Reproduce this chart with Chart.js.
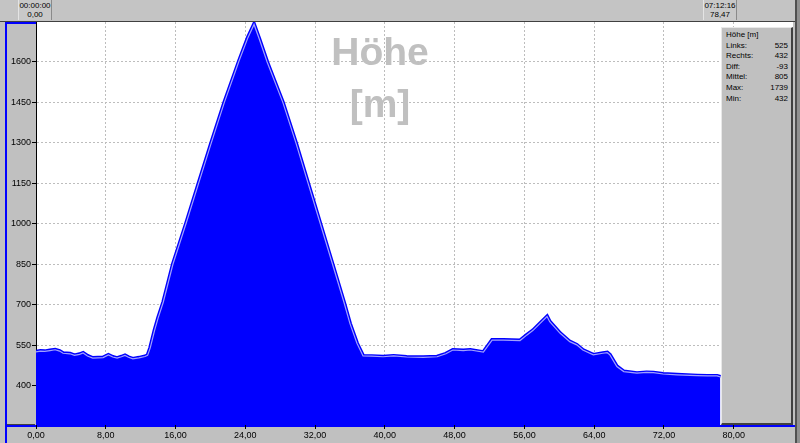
<!DOCTYPE html>
<html>
<head>
<meta charset="utf-8">
<script src="https://cdn.jsdelivr.net/npm/chart.js@4/dist/chart.umd.min.js"></script>
<style>
  html, body { margin: 0; padding: 0; }
  body { width: 800px; height: 443px; position: relative; overflow: hidden; background: #c0c0c0; font-family: Arial, 'Liberation Sans', sans-serif; }
  .abs { position: absolute; }
  #chart { position: absolute; left: 0; top: 0; z-index: 2; }
  .tbox { top: 0; height: 20px; width: 34px; background: #c8c8c8; border-left: 1px solid #e4e4e4; border-right: 1px solid #8a8a8a; font-size: 8px; line-height: 9px; text-align: center; padding-top: 1px; box-sizing: border-box; }
  #stats { left: 721px; top: 27px; width: 72px; height: 398px; background: #c0c0c0; border-top: 1px solid #e8e8e8; border-left: 1px solid #e8e8e8; border-right: 2px solid #404040; border-bottom: 2px solid #404040; box-sizing: border-box; z-index: 3; font-size: 8px; padding: 2px 3px 0 4px; }
  #stats .row { display: flex; justify-content: space-between; height: 10.6px; line-height: 10.6px; }
  #title { left: 300px; top: 26px; width: 160px; text-align: center; color: #c0c0c0; font-weight: bold; font-size: 39px; line-height: 52px; z-index: 3; }
</style>
</head>
<body>
<!-- frame pieces behind the canvas -->
<div class="abs" style="left:0;top:0;width:800px;height:21px;background:#c4c4c4;"></div>
<div class="abs" style="left:0;top:21px;width:797px;height:1px;background:#404040;"></div>
<div class="abs tbox" style="left:18px;">00:00:00<br>0,00</div>
<div class="abs tbox" style="left:703px;">07:12:16<br>78,47</div>
<div class="abs" style="left:7px;top:24px;width:28px;height:400px;background:#c0c0c0;border-bottom:1px solid #404040;"></div>
<div class="abs" style="left:5px;top:22px;width:2px;height:421px;background:#0000ff;"></div>
<div class="abs" style="left:5px;top:22px;width:31px;height:2px;background:#0000ff;"></div>
<div class="abs" style="left:5px;top:425px;width:790px;height:2px;background:#0000ff;z-index:1;"></div>
<div class="abs" style="left:795px;top:0;width:2px;height:443px;background:#505050;"></div>
<div class="abs" style="left:797px;top:0;width:3px;height:443px;background:#909090;"></div>

<canvas id="chart" width="800" height="443"></canvas>

<div id="title" class="abs">Höhe<br>[m]</div>
<div id="stats" class="abs">
  <div class="row"><span>Höhe [m]</span><span></span></div>
  <div class="row"><span>Links:</span><span>525</span></div>
  <div class="row"><span>Rechts:</span><span>432</span></div>
  <div class="row"><span>Diff:</span><span>-93</span></div>
  <div class="row"><span>Mittel:</span><span>805</span></div>
  <div class="row"><span>Max:</span><span>1739</span></div>
  <div class="row"><span>Min:</span><span>432</span></div>
</div>

<script>
// distance [km] and height [m]
const distKm = [
  0, 0.5, 1.0, 1.6, 2.2, 2.7, 3.1, 3.9, 4.4, 5.0, 5.4, 5.9, 6.5, 7.1, 7.7, 8.3, 8.8, 9.3, 9.8, 10.2,
  10.6, 11.1, 11.8, 12.5, 12.8, 13.1, 13.6, 14.0, 14.6, 15.7, 17.2, 18.6, 20.1, 21.6, 23.3, 24.3, 25.0,
  25.6, 26.5, 28.3, 29.8, 31.2, 32.6, 34.0, 35.3, 36.0, 36.8, 37.5, 38.5, 39.8, 41.0, 42.5, 44.4, 46.0,
  47.0, 47.8, 49.0, 49.8, 51.3, 52.3, 53.6, 55.5, 56.3, 57.0, 57.8, 58.6, 58.9, 60.1, 61.2, 62.0, 62.7,
  63.9, 65.0, 65.5, 65.8, 66.6, 67.4, 68.9, 70.0, 70.8, 71.9, 73.5, 75.8, 77.0, 78.1, 78.47
];
const heightM = [
  525, 528, 527, 530, 533, 528, 520, 518, 512, 516, 521, 510, 502, 503, 504, 514, 506, 502, 507, 512,
  505, 499, 503, 508, 512, 540, 605, 650, 710, 850, 1000, 1145, 1300, 1450, 1605, 1690, 1739,
  1685, 1600, 1450, 1300, 1150, 1000, 850, 710, 630, 557, 510, 509, 507, 510, 506, 505, 507,
  518, 532, 530, 532, 524, 569, 569, 567, 588, 605, 631, 656, 637, 594, 563, 551, 532,
  514, 520, 522, 514, 471, 452, 446, 449, 448, 443, 440, 437, 436, 436, 432
];
const xTicks = [0, 8, 16, 24, 32, 40, 48, 56, 64, 72, 80];
const yTicks = [400, 550, 700, 850, 1000, 1150, 1300, 1450, 1600];

const points = distKm.map((x, i) => ({ x, y: heightM[i] }));
const tickFont = { family: "Arial, 'Liberation Sans', sans-serif", size: 9 };

const plotBg = {
  id: 'plotBg',
  beforeDraw(chart) {
    const { ctx, chartArea: a } = chart;
    ctx.save();
    ctx.fillStyle = '#ffffff';
    ctx.fillRect(a.left, a.top, a.right - a.left, a.bottom - a.top);
    ctx.restore();
  }
};

new Chart(document.getElementById('chart'), {
  type: 'line',
  data: {
    datasets: [
      // light inner outline, drawn on top
      { data: points, borderColor: '#a0a0ff', borderWidth: 1.2, pointRadius: 0, tension: 0, fill: false, order: 0 },
      // blue filled profile
      { data: points, borderColor: '#0000ff', backgroundColor: '#0000ff', borderWidth: 4, pointRadius: 0, tension: 0, fill: 'start', order: 1 }
    ]
  },
  options: {
    responsive: false, animation: false, devicePixelRatio: 1,
    layout: { padding: { top: 22, right: 7, left: 0, bottom: 0 } },
    plugins: { legend: { display: false }, tooltip: { enabled: false } },
    scales: {
      x: {
        type: 'linear', min: 0, max: 86.8,
        afterBuildTicks: axis => { axis.ticks = xTicks.map(v => ({ value: v })); },
        afterFit: axis => { axis.height = 18; },
        ticks: { font: tickFont, color: '#000', padding: 1, maxRotation: 0, autoSkip: false, callback: v => v.toFixed(2).replace('.', ',') },
        grid: { color: '#bdbdbd', tickColor: '#000', tickLength: 4 },
        border: { display: false, dash: [2, 2] }
      },
      y: {
        min: 254, max: 1748,
        afterBuildTicks: axis => { axis.ticks = yTicks.map(v => ({ value: v })); },
        afterFit: axis => { axis.width = 36; },
        ticks: { font: tickFont, color: '#000', padding: 1, autoSkip: false, callback: v => String(v) },
        grid: { color: '#bdbdbd', tickColor: '#000', tickLength: 4 },
        border: { color: '#000', width: 1, dash: [2, 2] }
      }
    }
  },
  plugins: [plotBg]
});
</script>
</body>
</html>
